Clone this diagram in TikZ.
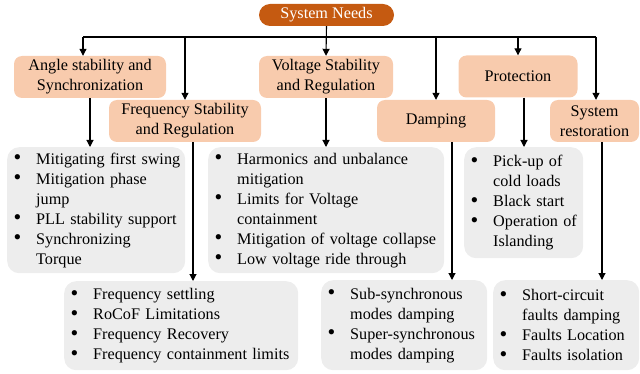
\documentclass[tikz,border=0pt]{standalone}
\usepackage{fontspec}
\setmainfont{Liberation Serif}
\usetikzlibrary{arrows.meta}
\definecolor{needsorange}{HTML}{C55A11}
\definecolor{peach}{HTML}{F8CBAD}
\definecolor{listgray}{HTML}{EDEDED}
\newcommand{\bitem}[1]{\makebox[24pt][l]{\hspace*{1.5pt}\raisebox{-0.5pt}{\fontsize{22}{20}\selectfont\textbullet}}\mbox{#1}}
\newcommand{\bcont}[1]{\hspace*{24pt}\mbox{#1}}
\tikzset{
  needsbox/.style={fill=needsorange, text=white, rounded corners=11pt, inner sep=0pt},
  titlebox/.style={fill=peach, rounded corners=8pt, align=center, inner sep=0pt},
  listbox/.style={fill=listgray, rounded corners=12pt, align=left, inner xsep=5pt, inner ysep=0pt, anchor=north west},
  conn/.style={line width=1.1pt},
  arr/.style={conn, -{Triangle[length=7pt,width=7pt]}}
}
\begin{document}
\begin{tikzpicture}[x=1pt, y=-1pt, font=\fontsize{16.2}{20}\selectfont]
		\useasboundingbox (0,0) rectangle (640,374);
		% top node and headings
		\node[needsbox, minimum width=135pt, minimum height=22pt] (needs) at (326.5,15) {System Needs};
		\node[titlebox, minimum width=152pt, minimum height=42pt] (angle) at (90,77) {Angle stability and\\Synchronization};
		\node[titlebox, minimum width=152pt, minimum height=42pt] (freq) at (185,121) {Frequency Stability\\and Regulation};
		\node[titlebox, minimum width=134pt, minimum height=42pt] (volt) at (326,77) {Voltage Stability\\and Regulation};
		\node[titlebox, minimum width=118pt, minimum height=42pt] (damp) at (436,121) {Damping};
		\node[titlebox, minimum width=119pt, minimum height=42pt] (prot) at (518,76.5) {Protection};
		\node[titlebox, minimum width=89pt, minimum height=42pt] (rest) at (594.5,121) {System\\restoration};
		% lists
		\node[listbox, text width=168pt, minimum height=126pt] (anglelist) at (7,147) {\bitem{Mitigating first swing}\\\bitem{Mitigation phase}\\\bcont{jump}\\\bitem{PLL stability support}\\\bitem{Synchronizing}\\\bcont{Torque}};
		\node[listbox, text width=224pt, minimum height=89pt] (freqlist) at (64,281) {\bitem{Frequency settling}\\\bitem{RoCoF Limitations}\\\bitem{Frequency Recovery}\\\bitem{Frequency containment limits}};
		\node[listbox, text width=226pt, minimum height=126pt] (voltlist) at (208,147) {\bitem{Harmonics and unbalance}\\\bcont{mitigation}\\\bitem{Limits for Voltage}\\\bcont{containment}\\\bitem{Mitigation of voltage collapse}\\\bitem{Low voltage ride through}};
		\node[listbox, text width=109pt, minimum height=111pt] (protlist) at (464,147) {\bitem{Pick-up of}\\\bcont{cold loads}\\\bitem{Black start}\\\bitem{Operation of}\\\bcont{Islanding}};
		\node[listbox, text width=156pt, minimum height=90pt] (damplist) at (321,280) {\bitem{Sub-synchronous}\\\bcont{modes damping}\\\bitem{Super-synchronous}\\\bcont{modes damping}};
		\node[listbox, text width=136pt, minimum height=90pt] (restlist) at (493,280) {\bitem{Short-circuit}\\\bcont{faults damping}\\\bitem{Faults Location}\\\bitem{Faults isolation}};
		% bus and arrows
		\coordinate (busL) at (83,37);
		\coordinate (busR) at (596,37);
		\draw[conn] (busL) -- (busR);
		\draw[arr] (needs.south) -- (volt.north);
		\draw[arr] (busL) -- (busL |- angle.north);
		\draw[arr] (freq.north |- busL) -- (freq.north);
		\draw[arr] (damp.north |- busL) -- (damp.north);
		\draw[arr] (prot.north |- busL) -- (prot.north);
		\draw[arr] (busR) -- (busR |- rest.north);
		\draw[arr] (angle.south) -- (angle.south |- anglelist.north);
		\draw[arr] ([xshift=8pt]freq.south) -- ([xshift=8pt]freq.south |- freqlist.north);
		\draw[arr] (volt.south) -- (volt.south |- voltlist.north);
		\draw[arr] ([xshift=16pt]damp.south) -- ([xshift=16pt]damp.south |- damplist.north);
		\draw[arr] ([xshift=6pt]prot.south) -- ([xshift=6pt]prot.south |- protlist.north);
		\draw[arr] ([xshift=7.5pt]rest.south) -- ([xshift=7.5pt]rest.south |- restlist.north);
	\end{tikzpicture}
\end{document}
